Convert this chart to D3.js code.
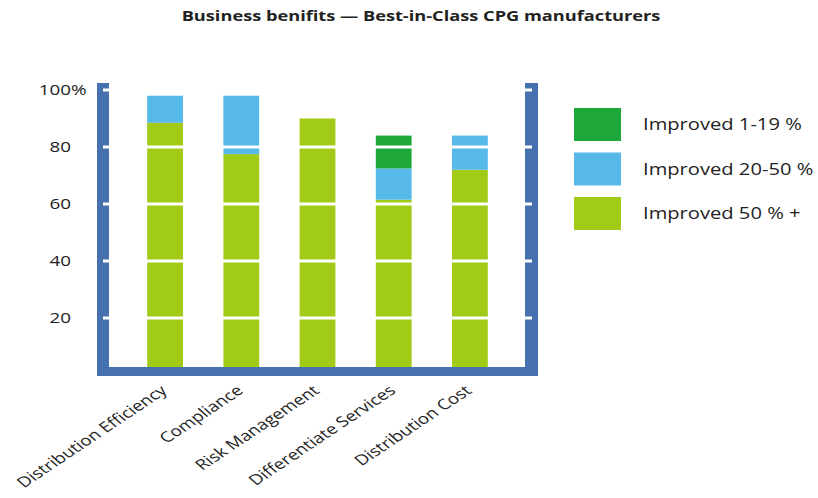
<!DOCTYPE html>
<html>
<head>
<meta charset="utf-8">
<script src="https://cdn.jsdelivr.net/npm/d3@7"></script>
<style>
  body { margin: 0; background: #fff; }
  text { font-family: 'Open Sans', 'Noto Sans', sans-serif; fill: #222; }
</style>
</head>
<body>
<div id="chart"></div>
<script>
const categories = ['Distribution Efficiency', 'Compliance', 'Risk Management', 'Differentiate Services', 'Distribution Cost']
const improved50plus = [88.5, 77.5, 90, 61.5, 72]
const improved20to50 = [9.5, 20.5, 0, 11, 12]
const improved1to19 = [0, 0, 0, 11.5, 0]
const seriesNames = ['Improved 1-19 %', 'Improved 20-50 %', 'Improved 50 % +']
const yTicks = [20, 40, 60, 80, 100]

const colors = {
  'Improved 1-19 %': '#1ea83a',
  'Improved 20-50 %': '#56b9ea',
  'Improved 50 % +': '#a2cb17'
}
const frameColor = '#4571ae'

const width = 818
const height = 498
// the original picture is stretched sideways, so text gets a horizontal scale
const stretch = 1.3

const rows = categories.map((c, i) => ({
  label: c,
  'Improved 50 % +': improved50plus[i],
  'Improved 20-50 %': improved20to50[i],
  'Improved 1-19 %': improved1to19[i]
}))
const stackKeys = ['Improved 50 % +', 'Improved 20-50 %', 'Improved 1-19 %']
const stacked = d3.stack().keys(stackKeys)(rows)

const x = d3.scaleBand()
  .domain(categories)
  .range([127, 508])
  .paddingInner(0.53)
  .paddingOuter(0.265)

const y = d3.scaleLinear()
  .domain([0, 100])
  .range([375, 90])

const svg = d3.select('#chart').append('svg')
  .attr('width', width)
  .attr('height', height)

// title
svg.append('text')
  .attr('transform', 'translate(421,21) scale(1.35,1)')
  .attr('text-anchor', 'middle')
  .style('font-weight', 'bold')
  .style('font-size', '13.5px')
  .text('Business benifits \u2014 Best-in-Class CPG manufacturers')

// bars
svg.append('g')
  .selectAll('g')
  .data(stacked).enter()
  .append('g')
  .attr('fill', d => colors[d.key])
  .selectAll('rect')
  .data(d => d)
  .enter().append('rect')
  .attr('x', d => x(d.data.label))
  .attr('y', d => y(d[1]))
  .attr('width', x.bandwidth())
  .attr('height', d => y(d[0]) - y(d[1]))

// frame
const frame = svg.append('g').attr('fill', frameColor)
frame.append('rect').attr('x', 97).attr('y', 83).attr('width', 12).attr('height', 293)
frame.append('rect').attr('x', 525).attr('y', 83).attr('width', 13).attr('height', 293)
frame.append('rect').attr('x', 97).attr('y', 367).attr('width', 441).attr('height', 9)

// white grid lines through bars and tick marks on the frame
svg.append('g')
  .selectAll('line')
  .data(yTicks).enter()
  .append('line')
  .attr('x1', 103)
  .attr('x2', 532)
  .attr('y1', d => y(d))
  .attr('y2', d => y(d))
  .attr('stroke', '#fff')
  .attr('stroke-width', 3)

// y axis labels
const yAxis = svg.append('g')
  .attr('transform', 'translate(71,0)')
  .call(d3.axisLeft(y).tickValues(yTicks).tickSize(0).tickPadding(0))
yAxis.select('.domain').remove()
yAxis.selectAll('.tick text')
  .attr('transform', `scale(${stretch},1)`)
  .style('font-size', '14.5px')
  .style('font-family', "'Open Sans', sans-serif")
  .attr('fill', '#222')
yAxis.selectAll('.tick')
  .filter(d => d === 100)
  .append('text')
  .attr('transform', `scale(${stretch},1)`)
  .attr('x', 0)
  .attr('dy', '0.32em')
  .attr('text-anchor', 'start')
  .attr('fill', '#222')
  .style('font-size', '14.5px')
  .style('font-family', "'Open Sans', sans-serif")
  .text('%')

// x labels
svg.append('g')
  .selectAll('text')
  .data(categories).enter()
  .append('text')
  .attr('transform', d => `translate(${x(d) + x.bandwidth() / 2 + 3},${392}) scale(${stretch},1) rotate(-41)`)
  .attr('text-anchor', 'end')
  .style('font-size', '14.5px')
  .text(d => d)

// legend
const legend = svg.append('g')
  .selectAll('g')
  .data(seriesNames).enter()
  .append('g')
  .attr('transform', (d, i) => `translate(574,${108 + i * 44.5})`)
legend.append('rect')
  .attr('width', 47)
  .attr('height', 33)
  .attr('fill', d => colors[d])
legend.append('text')
  .attr('transform', `translate(69,17) scale(${stretch},1)`)
  .attr('dy', '0.35em')
  .style('font-size', '15.5px')
  .text(d => d)
</script>
</body>
</html>
